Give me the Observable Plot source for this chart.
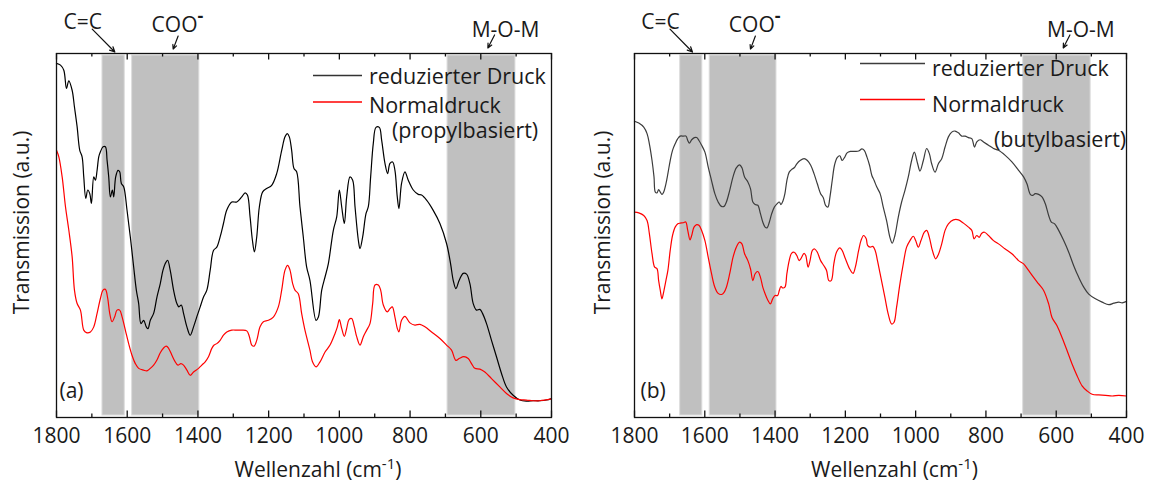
<!DOCTYPE html>
<html>
<head>
<meta charset="utf-8">
<script src="https://cdn.jsdelivr.net/npm/d3@7"></script>
<script src="https://cdn.jsdelivr.net/npm/@observablehq/plot@0.6"></script>
<style>
  html, body { margin: 0; padding: 0; background: #fff; }
  #wrap { display: flex; width: 1159px; height: 482px; overflow: hidden; }
  #wrap svg { display: block; }
</style>
</head>
<body>
<div id="wrap"></div>
<script>
// ---------- data ----------
const xDomain = [1800, 400];
const majorTicks = [1800, 1600, 1400, 1200, 1000, 800, 600, 400];
const minorTicks = [1700, 1500, 1300, 1100, 900, 700, 500];

const bandFrom = [1670, 1586, 694];
const bandTo   = [1607, 1396, 502];

const seriesNames = ["reduzierter Druck", "Normaldruck"];
const panelLetters = ["(a)", "(b)"];
const panelSuffix = ["(propylbasiert)", "(butylbasiert)"];
const xLabel = "Wellenzahl (cm-1)";
const yLabel = "Transmission (a.u.)";

const annotLabels = ["C=C", "COO", "M-O-M"];
const annotTextWn = [1726, 1458, 530];
const annotTextV  = [106.7, 105.9, 104.5];
const arrowTailWn = [1699, 1456, 561];
const arrowTailV  = [106.7, 104.8, 105.1];
const arrowTipWn  = [1635, 1470, 580];
const arrowTipV   = [100.4, 101.2, 101.5];

// panel (a): propylbasiert  [wavenumber, transmission a.u.]
const aReduced = [[1800,97.3],[1788.7,96.8],[1779.3,95.4],[1771.8,90.4],[1765.2,92.5],[1755.8,89.9],[1749.2,85.3],[1741.7,79.9],[1734.2,73.4],[1727.6,71.6],[1722.9,66.1],[1717.2,60.2],[1711.6,62.5],[1705.9,61.5],[1701.2,58.8],[1694.6,66.1],[1690,65.2],[1685.2,67.9],[1680.5,71.6],[1675.8,73.0],[1668.3,74.4],[1661.7,74.4],[1657,70.7],[1652.3,66.1],[1647.6,60.6],[1642,62.5],[1638.2,60.6],[1632.6,66.1],[1626,67.9],[1621.3,67.5],[1616.6,64.3],[1610,63.4],[1600.6,57.0],[1591.2,49.6],[1581.8,41.4],[1574.2,35.0],[1567.6,31.3],[1561.1,25.8],[1553.5,26.7],[1546,24.9],[1541.3,24.4],[1534.7,26.7],[1525.3,28.6],[1515.9,33.1],[1506.5,36.8],[1499,40.4],[1492.4,42.3],[1485.8,43.2],[1478.3,40.4],[1468.9,35.0],[1459.5,31.3],[1453.8,30.4],[1447.2,30.9],[1440.7,28.6],[1431.2,24.9],[1421.8,22.6],[1412.4,24.9],[1403,27.7],[1393.6,30.4],[1384.2,33.1],[1374.8,35.0],[1365.4,40.4],[1356,45.9],[1346.6,46.8],[1337.2,49.6],[1327.8,53.3],[1318.4,57.0],[1304.3,59.2],[1290.1,59.2],[1276,60.6],[1266.6,61.7],[1260,61.1],[1252.5,55.1],[1245.9,48.7],[1240.3,45.5],[1233.7,49.6],[1226.2,57.9],[1216.8,62.0],[1205.5,62.9],[1191.4,63.8],[1177.3,67.0],[1163.1,73.4],[1153.7,77.1],[1147.2,78.0],[1141.5,77.1],[1134.9,73.4],[1128.3,68.4],[1120.8,67.5],[1111.4,57.9],[1102,49.6],[1092.6,41.4],[1083.2,37.7],[1065.9,26.7],[1059.3,27.6],[1049.9,35.0],[1040.5,38.6],[1031.1,42.3],[1016.9,51.5],[1007.5,55.1],[1000,62.5],[993.4,57.9],[985.9,53.3],[979.3,60.6],[969.9,66.1],[962.3,65.2],[955.7,57.9],[946.3,48.7],[941.6,46.4],[934.1,49.6],[924.7,56.0],[918.1,57.9],[911.5,66.1],[904,75.3],[896.4,79.7],[887,79.7],[880.4,76.2],[871,69.8],[863.5,67.0],[856.9,69.8],[849.3,70.2],[842.8,67.9],[836.2,60.6],[831.5,57.4],[824.1,64.3],[814.5,67.5],[805.1,65.2],[790.9,62.5],[776.8,61.3],[767.4,61.1],[753.3,59.7],[734.5,56.9],[715.6,53.3],[696.8,47.8],[685.5,42.3],[678,37.7],[670.4,35.4],[661,37.7],[649.7,39.6],[640.3,39.4],[630.8,36.8],[621.4,31.3],[612.1,29.5],[602.6,29.7],[595.1,28.6],[583.8,25.8],[569.7,21.2],[555.6,16.7],[541.4,12.1],[527.3,8.4],[508.5,6.1],[489.6,4.8],[470.8,4.5],[452,4.6],[433.2,4.6],[414.3,4.8],[400,5.2]];

const aNormal = [[1800,73.4],[1793.4,71.6],[1784,66.1],[1774.6,57.9],[1765.2,51.5],[1755.8,44.2],[1749.2,35.0],[1741.7,31.3],[1732.3,29.5],[1722.9,24.0],[1715.3,23.3],[1704,23.5],[1694.6,24.9],[1685.2,28.6],[1675.8,32.7],[1668.3,35.0],[1661.7,35.2],[1655.1,32.7],[1649.5,28.6],[1642.9,26.3],[1635.4,27.7],[1628.8,29.5],[1621.3,29.5],[1614.7,27.7],[1605.3,24.0],[1595.9,20.3],[1586.5,17.1],[1577,14.8],[1567.6,13.5],[1553.5,13.0],[1544.1,12.8],[1534.7,13.5],[1525.3,14.4],[1515.9,15.8],[1506.5,17.8],[1497.1,19.1],[1489.6,19.6],[1482.9,19.0],[1473.6,17.1],[1464.2,15.3],[1456.6,14.4],[1448.2,14.8],[1440.7,14.4],[1431.2,13.0],[1421.8,11.6],[1412.4,12.5],[1398.3,13.5],[1388.9,14.4],[1379.5,15.3],[1370.1,16.7],[1360.7,19.0],[1354.1,19.9],[1346.6,20.3],[1337.2,21.2],[1327.8,22.6],[1318.4,23.5],[1304.3,24.0],[1290.1,24.0],[1276,24.0],[1261.9,23.8],[1254.4,22.2],[1247.8,19.9],[1241.2,19.6],[1233.7,21.2],[1224.3,24.9],[1214.9,26.3],[1200.8,26.7],[1186.7,27.6],[1172.6,30.4],[1163.1,35.0],[1153.7,40.5],[1146.2,41.8],[1139.6,40.5],[1132.1,36.8],[1125.5,35.0],[1116.1,34.0],[1106.7,28.6],[1097.3,24.0],[1083.2,18.5],[1076,15.3],[1065.9,13.9],[1054.6,15.3],[1040.5,18.0],[1026.4,19.9],[1012.2,23.1],[1005.6,24.9],[1000,26.9],[993.4,24.5],[985.9,22.3],[979.3,24.5],[972.7,26.9],[965.2,27.2],[957.6,24.9],[951,22.2],[941.6,19.9],[932.2,22.2],[922.8,24.0],[913.4,25.8],[905.8,31.3],[899.2,36.4],[889.8,36.4],[883.2,35.0],[875.7,30.9],[864.4,29.0],[856.9,29.9],[850.3,30.4],[842.8,27.6],[836.2,24.5],[831.5,23.5],[824.1,26.7],[814.5,27.8],[800.4,26.0],[786.3,25.4],[772.1,25.6],[758,24.9],[739.2,23.5],[715.6,21.7],[696.8,19.9],[682.7,18.5],[670.4,15.7],[661,16.2],[647.8,16.7],[635.6,16.2],[626.2,14.8],[616.8,13.5],[602.6,13.3],[588.5,12.5],[569.7,10.7],[546.1,8.4],[527.3,6.6],[508.5,5.4],[489.6,4.9],[470.8,4.8],[452,4.6],[433.2,4.6],[400,5.1]];

// panel (b): butylbasiert
const bReduced = [[1800,81.4],[1787.8,80.9],[1773.7,79.8],[1764.3,78.0],[1757.7,75.2],[1750.1,70.6],[1744.5,66.1],[1740.7,61.9],[1736,61.7],[1731.3,62.6],[1726.6,61.9],[1721.9,61.3],[1717.2,61.9],[1710.6,64.2],[1705,67.0],[1698.4,70.6],[1691.8,73.4],[1684.3,75.2],[1676.8,76.6],[1670.2,77.3],[1660.8,77.3],[1653.3,77.3],[1648.5,76.1],[1643.8,75.4],[1637.3,76.3],[1629.7,76.9],[1623.1,76.9],[1616.6,76.1],[1609,74.8],[1599.6,72.9],[1590.2,68.8],[1580.8,65.1],[1571.4,61.5],[1562,59.2],[1552.6,58.0],[1545.1,58.0],[1538.5,59.2],[1529.1,62.4],[1519.7,66.1],[1510.3,68.6],[1500.9,69.4],[1494.3,68.6],[1486.8,66.1],[1477.4,64.7],[1469.8,62.8],[1463.2,59.2],[1456.7,58.5],[1449.1,58.3],[1441.6,56.0],[1435,53.7],[1428.4,52.3],[1422.8,52.1],[1416.2,53.7],[1409.6,56.0],[1402.1,57.8],[1394.6,58.7],[1388,59.2],[1383.3,58.5],[1377.6,59.5],[1372,61.5],[1366.4,65.1],[1359.8,67.4],[1352.2,68.2],[1345.6,68.6],[1338.1,69.7],[1328.7,70.6],[1317.4,71.1],[1308,70.6],[1298.6,69.3],[1289.2,67.0],[1279.8,64.2],[1270.4,61.5],[1262.8,60.4],[1256.3,58.3],[1249.7,57.8],[1244,60.5],[1237.4,65.1],[1230.9,69.3],[1223.3,71.4],[1215.8,71.9],[1209.2,70.6],[1202.6,71.4],[1195.1,72.7],[1185.7,73.1],[1171.6,73.1],[1162.2,73.2],[1152.8,73.8],[1146.2,73.4],[1138.7,71.6],[1131.2,69.3],[1124.6,66.5],[1118,65.1],[1110.5,63.3],[1101.1,61.5],[1092.2,57.8],[1082.7,54.1],[1073.2,49.5],[1066.6,47.9],[1059,50.0],[1049.5,55.0],[1039.9,59.2],[1030.4,62.4],[1020.9,66.1],[1011.4,70.6],[1003.8,72.9],[994.3,69.7],[987.6,67.7],[978.1,70.6],[968.6,73.9],[961,72.5],[954.4,69.7],[944.8,67.4],[935.3,69.7],[925.8,71.1],[916.3,74.3],[906.8,77.1],[897.3,78.4],[887.8,78.7],[878.3,78.2],[868.8,77.3],[859.3,77.3],[849.7,76.9],[840.2,76.6],[832.6,74.3],[826,75.7],[816.5,76.3],[806.9,75.7],[792.7,74.8],[778.4,73.9],[764.2,73.4],[745.1,72.0],[726.1,70.2],[707.1,67.9],[692.8,66.1],[683.3,64.2],[673.8,61.3],[667.2,61.0],[659.5,61.5],[650,61.3],[640.5,60.6],[631,58.7],[621.5,55.5],[613.9,53.7],[604.4,53.2],[593,51.4],[578.7,48.6],[564.4,45.4],[550.2,41.7],[535.9,38.5],[521.6,35.8],[507.4,33.9],[488.4,32.6],[469.4,31.7],[450.3,31.0],[436.1,31.4],[421.8,31.7],[412.3,31.5],[400,31.9]];

const bNormal = [[1800,56.4],[1787.8,56.2],[1773.7,55.5],[1764.3,54.1],[1757.7,50.5],[1750.1,45.0],[1742.6,41.3],[1736,40.9],[1731.3,37.6],[1726.6,34.9],[1721.9,32.6],[1717.2,34.4],[1710.6,37.6],[1705,40.4],[1698.4,45.9],[1691.8,50.0],[1684.3,52.3],[1676.8,53.2],[1670.2,53.4],[1660.8,53.5],[1654.2,53.7],[1648.5,51.4],[1642,48.8],[1637.3,50.0],[1630.7,52.3],[1623.1,53.0],[1616.6,52.8],[1609,51.4],[1599.6,48.6],[1590.2,44.0],[1580.8,39.5],[1571.4,35.8],[1562,34.1],[1552.6,33.8],[1545.1,34.4],[1538.5,35.8],[1529.1,39.5],[1519.7,44.0],[1510.3,46.8],[1500.9,48.2],[1494.3,47.7],[1486.8,45.0],[1477.4,43.1],[1469.8,40.8],[1463.2,37.6],[1456.7,39.5],[1449.1,40.1],[1441.6,38.5],[1435,35.8],[1428.4,34.0],[1420.9,32.3],[1413.4,31.2],[1406.8,32.6],[1400.2,33.5],[1392.7,33.5],[1388,34.9],[1383.3,36.0],[1378.6,35.6],[1372,35.8],[1366.4,39.5],[1359.8,43.1],[1353.2,45.1],[1345.6,45.4],[1338.1,44.5],[1331.5,43.1],[1326.8,43.6],[1317.4,45.1],[1312.7,44.5],[1306.1,41.3],[1300.5,43.1],[1293.9,45.9],[1287.3,46.3],[1279.8,45.4],[1270.4,43.1],[1261,41.7],[1253.5,40.4],[1246.9,37.6],[1240.3,37.6],[1232.8,42.2],[1225.3,45.4],[1215.8,46.6],[1209.2,45.9],[1199.8,43.6],[1187.6,40.8],[1178.2,39.6],[1171.6,41.3],[1162.2,45.9],[1155.6,48.6],[1148.1,50.0],[1140.6,49.1],[1136.8,47.3],[1129.3,46.8],[1121.8,47.0],[1115.2,45.9],[1108.6,43.1],[1101.1,39.5],[1087.5,33.0],[1078,28.4],[1068.5,25.7],[1061.8,26.1],[1054.2,30.3],[1044.7,36.7],[1035.2,42.2],[1025.7,46.8],[1016.2,48.6],[1006.7,49.8],[1000,48.6],[992.4,46.8],[984.8,48.6],[975.3,50.9],[968.6,51.4],[961,49.5],[952.4,45.9],[942.9,43.6],[935.3,44.8],[925.8,47.7],[916.3,51.4],[906.8,53.2],[892.5,54.3],[878.3,54.3],[864,53.4],[849.7,52.3],[840.2,51.4],[833.6,49.1],[826,50.0],[819.3,49.5],[811.7,50.6],[804.1,50.9],[792.7,50.0],[778.4,48.6],[764.2,47.7],[745.1,46.3],[726.1,45.0],[707.1,43.1],[692.8,42.2],[678.6,40.4],[664.3,38.5],[650,36.7],[635.8,34.9],[621.5,31.2],[612,27.5],[597.7,25.2],[583.5,22.0],[569.2,18.4],[554.9,14.7],[540.7,11.5],[526.4,8.7],[512.1,7.3],[497.9,6.4],[478.8,6.2],[459.8,6.1],[440.8,5.9],[421.8,6.1],[400,5.9]];

// ---------- drawing ----------
const FONT = '"Open Sans", "Noto Sans", sans-serif';
const TEXT = "#1a1a1a";
const HEIGHT = 482, MT = 53, MB = 65;
const plotH = HEIGHT - MT - MB;

const bands = bandFrom.map((f, i) => ({from: f, to: bandTo[i]}));
const annots = annotLabels.map((label, i) => ({
  label, tx: annotTextWn[i], ty: annotTextV[i],
  ax1: arrowTailWn[i], ay1: arrowTailV[i], ax2: arrowTipWn[i], ay2: arrowTipV[i]
}));
const rows = arr => arr.map(([wn, v]) => ({wn, v}));

function sizeText(svg, label, px) {
  d3.select(svg).selectAll(`g[aria-label="${label}"]`).style("font-size", px + "px")
    .selectAll("text").style("font-size", px + "px");
}

function makePanel(cfg) {
  const svg = Plot.plot({
    width: cfg.width, height: HEIGHT,
    marginLeft: cfg.ml, marginRight: cfg.mr, marginTop: MT, marginBottom: MB,
    style: {fontFamily: FONT, background: "white", color: TEXT, fontSize: "21px", overflow: "visible"},
    x: {domain: xDomain},
    y: {domain: [0, 100], axis: null},
    marks: [
      Plot.rect(bands, {x1: "from", x2: "to", fill: "#c0c0c0", stroke: "#dcdcdc", strokeWidth: 1, insetTop: 2, insetBottom: 2}),
      Plot.line(rows(cfg.reduced), {x: "wn", y: "v", stroke: cfg.reducedColor, strokeWidth: 1.2, curve: "catmull-rom"}),
      Plot.line(rows(cfg.normal), {x: "wn", y: "v", stroke: "#ff0000", strokeWidth: 1.2, curve: "catmull-rom"}),
      Plot.tickX(majorTicks, {insetTop: plotH - 6.5, stroke: "#111", strokeWidth: 1.3}),
      Plot.tickX(majorTicks, {insetBottom: plotH - 6.5, stroke: "#111", strokeWidth: 1.3}),
      Plot.tickX(minorTicks, {insetTop: plotH - 3.5, stroke: "#111", strokeWidth: 1.3}),
      Plot.tickX(minorTicks, {insetBottom: plotH - 3.5, stroke: "#111", strokeWidth: 1.3}),
      Plot.axisX({ticks: majorTicks, tickSize: 0, tickPadding: 11, label: null, tickFormat: d => String(d)}),
      Plot.frame({stroke: "#111", strokeWidth: 1.3}),
      Plot.text([xLabel], {frameAnchor: "bottom", lineAnchor: "bottom", dx: 14, dy: 59, fill: TEXT, ariaLabel: "xlabel"}),
      Plot.text([yLabel], {frameAnchor: "left", textAnchor: "middle", rotate: -90, dx: cfg.yLabelDx, dy: -13, fill: TEXT, ariaLabel: "ylabel"}),
      Plot.text([cfg.letter], {frameAnchor: "bottom-left", textAnchor: "start", lineAnchor: "bottom", dx: cfg.letterDx, dy: -20, fill: TEXT, ariaLabel: "letter"}),
      Plot.text(annots, {x: "tx", y: "ty", text: "label", lineAnchor: "bottom", fill: TEXT, ariaLabel: "annot"}),
      Plot.arrow(annots, {x1: "ax1", y1: "ay1", x2: "ax2", y2: "ay2", headLength: 7, headAngle: 50, stroke: "#111", strokeWidth: 1.2})
    ]
  });

  sizeText(svg, "x-axis tick label", 21);
  sizeText(svg, "xlabel", 23);
  sizeText(svg, "ylabel", 21.5);
  sizeText(svg, "letter", 26);
  sizeText(svg, "annot", 24);

  // superscripts
  d3.select(svg).selectAll("text").each(function () {
    if (this.textContent === xLabel) {
      const t = d3.select(this);
      t.text(null);
      t.append("tspan").text("Wellenzahl (cm");
      t.append("tspan").attr("dy", -8).style("font-size", "15px").text("-1");
      t.append("tspan").attr("dy", 8).text(")");
    }
    if (this.textContent === "COO") {
      d3.select(this).append("tspan").attr("dy", -10).style("font-size", "18px").attr("font-weight", "bold").text("-");
    }
  });

  // legend inside the plot area
  const L = cfg.legend;
  const g = d3.select(svg).append("g")
    .attr("font-family", FONT).attr("text-anchor", "start").attr("fill", TEXT)
    .style("font-size", "21.5px");
  [[L.y1, L.t1, cfg.legendColor, seriesNames[0]],
   [L.y2, L.t2, "#ff0000", seriesNames[1]]].forEach(([ly, ty, c, name]) => {
    g.append("line").attr("x1", L.x1).attr("x2", L.x2).attr("y1", ly).attr("y2", ly)
      .attr("stroke", c).attr("stroke-width", 1.4);
    g.append("text").attr("x", L.tx).attr("y", ty).attr("text-anchor", "start").text(name);
  });
  g.append("text").attr("x", L.sx).attr("y", L.sy).attr("text-anchor", "start").text(cfg.suffix);
  return svg;
}

const wrap = document.getElementById("wrap");
wrap.appendChild(makePanel({
  width: 580, ml: 56, mr: 29, reduced: aReduced, normal: aNormal, reducedColor: "#000000", legendColor: "#333333",
  letter: panelLetters[0], letterDx: 3, suffix: panelSuffix[0], yLabelDx: -34,
  legend: {x1: 313, x2: 362, y1: 75.5, y2: 102, tx: 369, t1: 84, t2: 112.5, sx: 392, sy: 138}
}));
wrap.appendChild(makePanel({
  width: 579, ml: 54, mr: 33, reduced: bReduced, normal: bNormal, reducedColor: "#3c3c3c", legendColor: "#3c3c3c",
  letter: panelLetters[1], letterDx: 6, suffix: panelSuffix[1], yLabelDx: -31,
  legend: {x1: 280, x2: 345, y1: 63.5, y2: 99.5, tx: 352, t1: 75.5, t2: 112, sx: 414, sy: 147}
}));
</script>
</body>
</html>
